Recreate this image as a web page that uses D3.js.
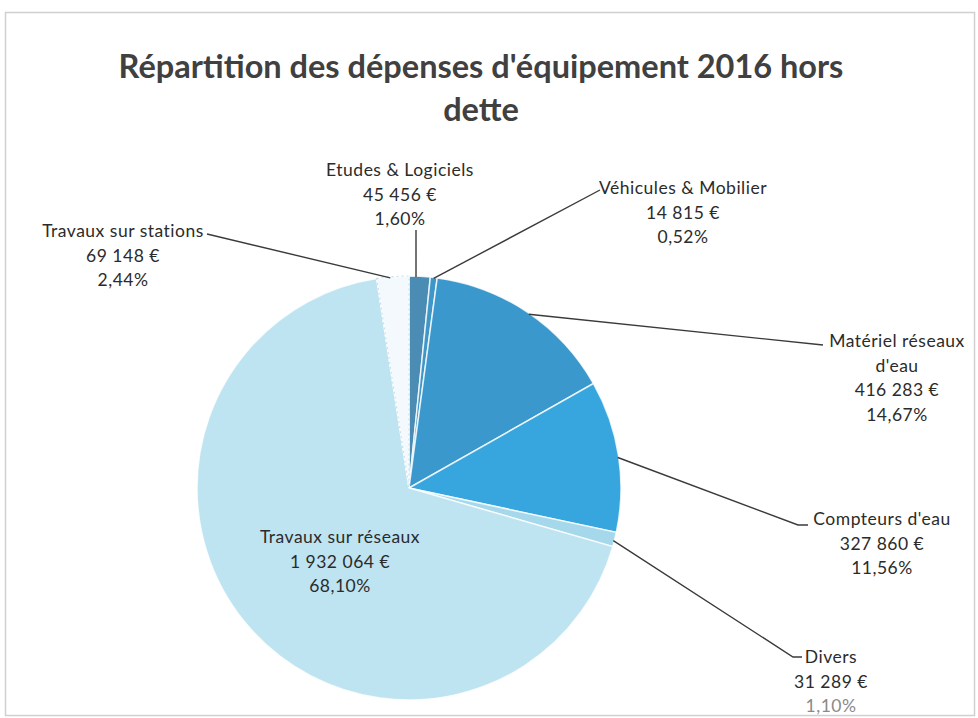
<!DOCTYPE html>
<html>
<head>
<meta charset="utf-8">
<script src="https://cdn.jsdelivr.net/npm/d3@7"></script>
<style>
  html, body { margin: 0; padding: 0; background: #fff; }
  svg { display: block; }
</style>
</head>
<body>
<svg id="chart" width="978" height="718"></svg>
<script>
// Dépenses d'équipement 2016 hors dette, in clockwise order from 12 o'clock
const categories = [
  "Etudes & Logiciels",
  "Véhicules & Mobilier",
  "Matériel réseaux d'eau",
  "Compteurs d'eau",
  "Divers",
  "Travaux sur réseaux",
  "Travaux sur stations"
];
const amounts = [45456, 14815, 416283, 327860, 31289, 1932064, 69148];
const amountLabels = ["45 456 €", "14 815 €", "416 283 €", "327 860 €", "31 289 €", "1 932 064 €", "69 148 €"];
const percentLabels = ["1,60%", "0,52%", "14,67%", "11,56%", "1,10%", "68,10%", "2,44%"];
const sliceColors = ["#4a8cb4", "#3f97c8", "#3a98cc", "#38a6de", "#a6d8ec", "#bee3f1", "#f3f9fc"];

const svg = d3.select("#chart");
const cx = 409, cy = 488, r = 212;
const font = "Lato, 'Open Sans', sans-serif";

// chart frame
svg.append("rect")
  .attr("x", 5.5).attr("y", 12.5).attr("width", 969).attr("height", 703)
  .attr("fill", "none").attr("stroke", "#d0d0d0").attr("stroke-width", 1.5);

// title
const title = svg.append("text")
  .attr("text-anchor", "middle")
  .attr("font-family", font)
  .attr("font-weight", "bold")
  .attr("font-size", 32.5)
  .attr("fill", "#404040");
title.append("tspan").attr("x", 481).attr("y", 78).text("Répartition des dépenses d'équipement 2016 hors");
title.append("tspan").attr("x", 481).attr("y", 121).text("dette");

// pie
const pie = d3.pie().sort(null).value(d => d)
  .startAngle(0).endAngle(2 * Math.PI);
const arcs = pie(amounts);
const arc = d3.arc().innerRadius(0).outerRadius(r);

const g = svg.append("g").attr("transform", `translate(${cx},${cy})`);
g.selectAll("path.slice")
  .data(arcs)
  .join("path")
  .attr("class", "slice")
  .attr("d", arc)
  .attr("fill", (d, i) => sliceColors[i])
  .attr("stroke", "#ffffff")
  .attr("stroke-width", 1.5)
  .attr("stroke-opacity", 0.8);

// soft outline of the pale stations slice
g.append("path")
  .attr("d", arc(arcs[6]))
  .attr("fill", "none")
  .attr("stroke", "#c9dfe8")
  .attr("stroke-width", 1.2)
  .attr("stroke-dasharray", "2,3");

// point on the rim at a fraction of the slice angle
function rim(d, t, rr) {
  const a = d.startAngle + (d.endAngle - d.startAngle) * t;
  return [cx + rr * Math.sin(a), cy - rr * Math.cos(a)];
}

// label definitions: anchor x, first baseline, leader path end points
const labels = [
  { i: 0, x: 400, y: 176, lines: ["Etudes & Logiciels"], leader: [[416, 230]], t: 0.33 },
  { i: 1, x: 683, y: 194, lines: ["Véhicules & Mobilier"], leader: [[600, 190]], t: 0.5 },
  { i: 2, x: 897, y: 347, lines: ["Matériel réseaux", "d'eau"], leader: [[823, 345]], t: 0.51 },
  { i: 3, x: 882, y: 525, lines: ["Compteurs d'eau"], leader: [[798, 525], [808, 525]], t: 0.51 },
  { i: 4, x: 831, y: 663, lines: ["Divers"], leader: [[793, 657], [802, 657]], t: 0.6 },
  { i: 5, x: 340, y: 543, lines: ["Travaux sur réseaux"], leader: null },
  { i: 6, x: 123, y: 237, lines: ["Travaux sur stations"], leader: [[207, 234]], t: 0.42 }
];

const line = d3.line();
labels.forEach(L => {
  const d = arcs[L.i];
  if (L.leader) {
    const start = rim(d, L.t, r - 1);
    svg.append("path")
      .attr("d", line([start, ...L.leader]))
      .attr("fill", "none")
      .attr("stroke", "#3a3a3a")
      .attr("stroke-width", 1.4);
  }
  const t = svg.append("text")
    .attr("text-anchor", "middle")
    .attr("font-family", font)
    .attr("font-size", 17.5)
    .attr("letter-spacing", 0.5)
    .attr("fill", "#2b2b2b");
  const all = [...L.lines, amountLabels[L.i], percentLabels[L.i]];
  all.forEach((s, k) => {
    t.append("tspan")
      .attr("x", L.x)
      .attr("y", L.y + k * 24.5)
      .attr("fill", (L.i === 4 && k === all.length - 1) ? "#8a8a8a" : "#2b2b2b")
      .text(s);
  });
});
</script>
</body>
</html>
